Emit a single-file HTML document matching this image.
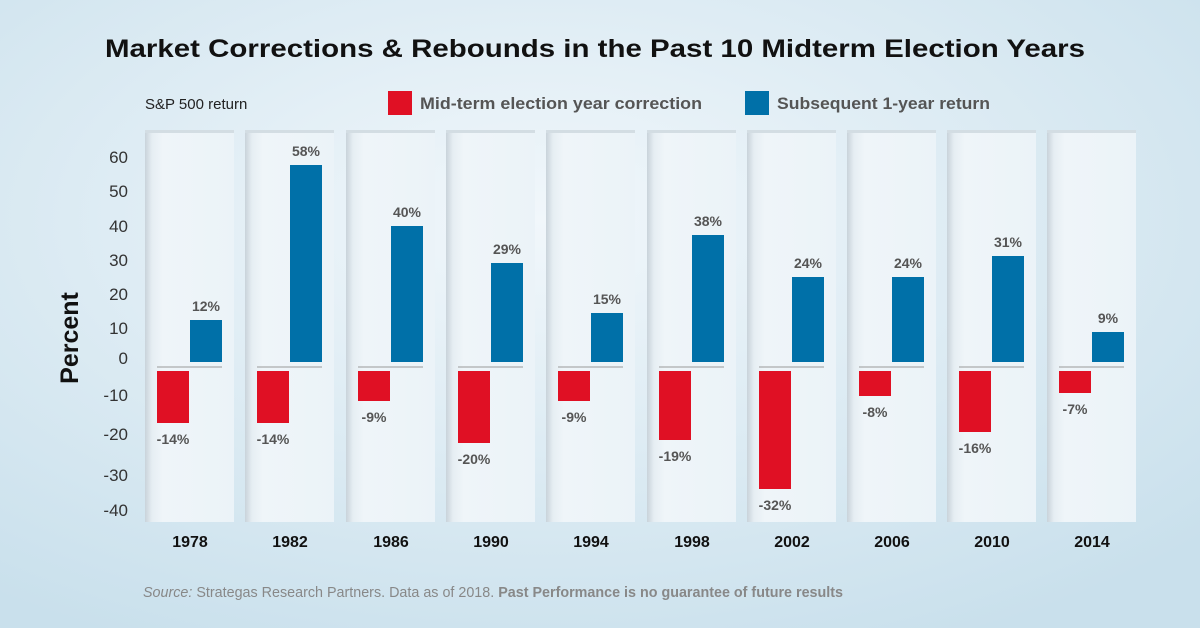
<!DOCTYPE html>
<html><head><meta charset="utf-8"><style>
body{margin:0;width:1200px;height:628px;overflow:hidden}
</style></head><body>
<svg width="1200" height="628" xmlns="http://www.w3.org/2000/svg" font-family="Liberation Sans, DejaVu Sans, sans-serif">
<defs>
<radialGradient id="bg" cx="45%" cy="35%" r="75%">
<stop offset="0" stop-color="#f1f7fb"/><stop offset="1" stop-color="#c9e0ec"/>
</radialGradient>
<linearGradient id="pn" x1="0" x2="1" y1="0" y2="0">
<stop offset="0" stop-color="#c9d3da"/><stop offset="0.08" stop-color="#e6eef3"/><stop offset="0.2" stop-color="#eff5f9"/><stop offset="1" stop-color="#ebf3f8"/>
</linearGradient>
<g id="p">
<rect x="0" y="130" width="89" height="392" fill="url(#pn)"/>
<rect x="0" y="130" width="89" height="3" fill="#d3dde3"/>
<line x1="12" x2="77" y1="367" y2="367" stroke="#999" stroke-width="1"/>
</g>
</defs>
<rect width="1200" height="628" fill="url(#bg)"/>
<text x="105" y="57" textLength="980" lengthAdjust="spacingAndGlyphs" font-size="25" font-weight="bold" fill="#111">Market Corrections &amp; Rebounds in the Past 10 Midterm Election Years</text>
<text x="145" y="109" font-size="15" fill="#222">S&amp;P 500 return</text>
<rect x="388" y="91" width="24" height="24" fill="#e01024"/>
<text x="420" y="109" textLength="282" lengthAdjust="spacingAndGlyphs" font-size="17" font-weight="bold" fill="#555">Mid-term election year correction</text>
<rect x="745" y="91" width="24" height="24" fill="#0070a8"/>
<text x="777" y="109" textLength="213" lengthAdjust="spacingAndGlyphs" font-size="17" font-weight="bold" fill="#555">Subsequent 1-year return</text>
<text transform="translate(78,338) rotate(-90)" text-anchor="middle" font-size="25" font-weight="bold" fill="#111">Percent</text>
<g font-size="17" fill="#333" text-anchor="end">
<text x="128" y="163">60</text><text x="128" y="197">50</text><text x="128" y="232">40</text><text x="128" y="266">30</text><text x="128" y="300">20</text><text x="128" y="334">10</text><text x="128" y="364">0</text><text x="128" y="401">-10</text><text x="128" y="440">-20</text><text x="128" y="481">-30</text><text x="128" y="516">-40</text>
</g>
<use href="#p" x="145"/><use href="#p" x="245"/><use href="#p" x="346"/><use href="#p" x="446"/><use href="#p" x="546"/>
<use href="#p" x="647"/><use href="#p" x="747"/><use href="#p" x="847"/><use href="#p" x="947"/><use href="#p" x="1047"/>
<g fill="#e01024">
<rect x="157" y="371" width="32" height="52"/>
<rect x="257" y="371" width="32" height="52"/>
<rect x="358" y="371" width="32" height="30"/>
<rect x="458" y="371" width="32" height="72"/>
<rect x="558" y="371" width="32" height="30"/>
<rect x="659" y="371" width="32" height="69"/>
<rect x="759" y="371" width="32" height="118"/>
<rect x="859" y="371" width="32" height="25"/>
<rect x="959" y="371" width="32" height="61"/>
<rect x="1059" y="371" width="32" height="22"/>
</g>
<g fill="#0070a8">
<rect x="190" y="320" width="32" height="42"/>
<rect x="290" y="165" width="32" height="197"/>
<rect x="391" y="226" width="32" height="136"/>
<rect x="491" y="263" width="32" height="99"/>
<rect x="591" y="313" width="32" height="49"/>
<rect x="692" y="235" width="32" height="127"/>
<rect x="792" y="277" width="32" height="85"/>
<rect x="892" y="277" width="32" height="85"/>
<rect x="992" y="256" width="32" height="106"/>
<rect x="1092" y="332" width="32" height="30"/>
</g>
<g font-size="14" font-weight="bold" fill="#555" text-anchor="middle">
<text x="173" y="444">-14%</text><text x="273" y="444">-14%</text><text x="374" y="422">-9%</text><text x="474" y="464">-20%</text><text x="574" y="422">-9%</text>
<text x="675" y="461">-19%</text><text x="775" y="510">-32%</text><text x="875" y="417">-8%</text><text x="975" y="453">-16%</text><text x="1075" y="414">-7%</text>
<text x="206" y="311">12%</text><text x="306" y="156">58%</text><text x="407" y="217">40%</text><text x="507" y="254">29%</text><text x="607" y="304">15%</text>
<text x="708" y="226">38%</text><text x="808" y="268">24%</text><text x="908" y="268">24%</text><text x="1008" y="247">31%</text><text x="1108" y="323">9%</text>
</g>
<g font-size="16" font-weight="bold" fill="#111" text-anchor="middle">
<text x="190" y="547">1978</text><text x="290" y="547">1982</text><text x="391" y="547">1986</text><text x="491" y="547">1990</text><text x="591" y="547">1994</text>
<text x="692" y="547">1998</text><text x="792" y="547">2002</text><text x="892" y="547">2006</text><text x="992" y="547">2010</text><text x="1092" y="547">2014</text>
</g>
<text x="143" y="597" textLength="700" lengthAdjust="spacingAndGlyphs" font-size="15" fill="#888"><tspan font-style="italic">Source:</tspan> Strategas Research Partners. Data as of 2018. <tspan font-weight="bold">Past Performance is no guarantee of future results</tspan></text>
</svg>
</body></html>
